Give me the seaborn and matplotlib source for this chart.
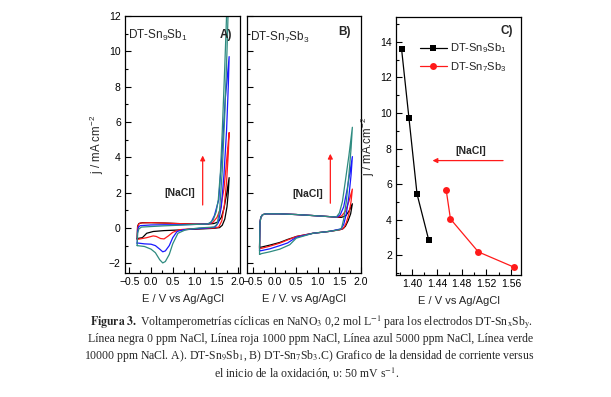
import numpy as np
import pandas as pd
import matplotlib
matplotlib.use("Agg")
import matplotlib.pyplot as plt
from matplotlib.ticker import MultipleLocator
import seaborn as sns

# ---------------- data ----------------
# Panel A: DT-Sn9Sb1 cyclic voltammograms (E / V, j / mA cm-2), loops
A_black_E = [-0.32, -0.31, -0.28, -0.20, 0.00, 0.30, 0.60, 1.00, 1.30, 1.45, 1.55, 1.62, 1.68, 1.74, 1.80,
             1.78, 1.75, 1.70, 1.64, 1.58, 1.45, 1.20, 0.90, 0.60, 0.30, 0.05, -0.10, -0.20, -0.32]
A_black_j = [-0.60, 0.10, 0.25, 0.30, 0.30, 0.28, 0.25, 0.22, 0.22, 0.25, 0.35, 0.60, 1.10, 1.90, 2.85,
             2.00, 1.20, 0.50, 0.15, 0.02, -0.02, -0.05, -0.08, -0.12, -0.15, -0.20, -0.30, -0.55, -0.60]
A_red_E = [-0.32, -0.31, -0.29, -0.25, 0.00, 0.30, 0.60, 1.00, 1.30, 1.42, 1.52, 1.60, 1.68, 1.73, 1.80,
           1.78, 1.74, 1.69, 1.63, 1.56, 1.45, 1.20, 0.90, 0.65, 0.50, 0.40, 0.30, 0.22, 0.12, 0.05, -0.10, -0.25, -0.32]
A_red_j = [-0.65, 0.00, 0.20, 0.28, 0.30, 0.28, 0.25, 0.22, 0.22, 0.30, 0.60, 1.10, 2.20, 3.50, 5.40,
           4.20, 2.60, 1.30, 0.40, 0.05, 0.00, -0.03, -0.05, -0.10, -0.25, -0.45, -0.62, -0.60, -0.48, -0.45, -0.55, -0.62, -0.65]
A_blue_E = [-0.32, -0.31, -0.29, -0.25, 0.00, 0.30, 0.60, 1.00, 1.30, 1.38, 1.46, 1.56, 1.64, 1.71, 1.80,
            1.78, 1.74, 1.68, 1.62, 1.55, 1.48, 1.30, 1.00, 0.75, 0.60, 0.50, 0.42, 0.33, 0.27, 0.20, 0.10, 0.00, -0.15, -0.32]
A_blue_j = [-0.90, -0.20, 0.05, 0.13, 0.17, 0.18, 0.18, 0.20, 0.22, 0.30, 0.70, 1.60, 4.40, 7.30, 9.70,
            8.00, 5.50, 3.00, 1.20, 0.30, 0.05, 0.00, -0.05, -0.10, -0.20, -0.55, -1.00, -1.30, -1.35, -1.20, -1.00, -0.92, -0.90, -0.85]
A_green_E = [-0.32, -0.31, -0.28, -0.22, 0.00, 0.30, 0.60, 1.00, 1.30, 1.36, 1.43, 1.50, 1.55, 1.60, 1.64, 1.70, 1.74, 1.80,
             1.78, 1.75, 1.70, 1.64, 1.58, 1.52, 1.45, 1.10, 0.80, 0.62, 0.50, 0.42, 0.33, 0.27, 0.20, 0.10, 0.00, -0.15, -0.32]
A_green_j = [-1.00, -0.30, -0.05, 0.05, 0.08, 0.12, 0.15, 0.20, 0.22, 0.30, 0.45, 0.90, 1.60, 3.20, 5.40, 9.20, 12.0, 13.6,
             12.5, 10.0, 6.50, 3.20, 1.00, 0.20, 0.05, 0.00, -0.10, -0.30, -0.90, -1.50, -1.90, -1.98, -1.80, -1.40, -1.20, -1.05, -1.00]

# Panel B: DT-Sn7Sb3 cyclic voltammograms
B_black_E = [-0.35, -0.34, -0.32, -0.28, -0.20, 0.10, 0.50, 0.90, 1.28, 1.45, 1.55, 1.65, 1.72, 1.80,
             1.76, 1.70, 1.64, 1.58, 1.50, 1.28, 0.89, 0.51, 0.30, 0.12, -0.11, -0.30, -0.35]
B_black_j = [-1.10, 0.30, 0.60, 0.75, 0.80, 0.80, 0.76, 0.70, 0.64, 0.60, 0.60, 0.70, 0.95, 1.37,
             0.80, 0.40, 0.10, -0.05, -0.10, -0.19, -0.30, -0.48, -0.65, -0.82, -0.97, -1.08, -1.10]
B_red_E = [-0.35, -0.34, -0.32, -0.28, -0.20, 0.10, 0.50, 0.90, 1.28, 1.45, 1.55, 1.64, 1.72, 1.80,
           1.77, 1.72, 1.66, 1.60, 1.52, 1.28, 0.89, 0.51, 0.30, 0.12, -0.11, -0.30, -0.35]
B_red_j = [-1.17, 0.30, 0.60, 0.75, 0.80, 0.80, 0.76, 0.70, 0.64, 0.60, 0.68, 0.95, 1.50, 2.20,
           1.50, 0.80, 0.30, 0.00, -0.10, -0.19, -0.30, -0.48, -0.68, -0.86, -1.03, -1.15, -1.17]
B_blue_E = [-0.35, -0.34, -0.32, -0.28, -0.20, 0.10, 0.50, 0.90, 1.28, 1.45, 1.52, 1.60, 1.68, 1.74, 1.80,
            1.77, 1.72, 1.66, 1.60, 1.54, 1.28, 0.89, 0.50, 0.30, 0.12, -0.11, -0.30, -0.35]
B_blue_j = [-1.30, 0.30, 0.60, 0.75, 0.80, 0.80, 0.76, 0.70, 0.64, 0.62, 0.75, 1.20, 2.20, 3.10, 4.04,
            3.00, 1.80, 0.80, 0.20, -0.05, -0.19, -0.30, -0.53, -0.85, -1.00, -1.18, -1.28, -1.30]
B_green_E = [-0.35, -0.34, -0.32, -0.28, -0.20, 0.10, 0.50, 0.90, 1.28, 1.43, 1.50, 1.57, 1.64, 1.72, 1.80,
             1.77, 1.72, 1.66, 1.60, 1.55, 1.50, 1.28, 0.89, 0.50, 0.35, 0.12, -0.11, -0.30, -0.35]
B_green_j = [-1.50, 0.30, 0.60, 0.75, 0.80, 0.80, 0.76, 0.70, 0.64, 0.62, 0.85, 1.50, 2.70, 4.10, 5.70,
             4.50, 3.00, 1.50, 0.50, 0.00, -0.10, -0.19, -0.30, -0.58, -0.95, -1.20, -1.35, -1.45, -1.50]

# Panel C: current density vs onset of oxidation
C_sn9_E = [1.383, 1.395, 1.408, 1.427]
C_sn9_j = [13.6, 9.7, 5.45, 2.85]
C_sn7_E = [1.455, 1.462, 1.507, 1.564]
C_sn7_j = [5.7, 4.05, 2.2, 1.35]

series_labels = ["0 ppm", "1000 ppm", "5000 ppm", "10000 ppm"]
C_labels = [r"DT-Sn$_9$Sb$_1$", r"DT-Sn$_7$Sb$_3$"]

# ---------------- style ----------------
sns.set_theme(style="white")
plt.rcParams["font.family"] = ["Liberation Sans", "DejaVu Sans"]
plt.rcParams["mathtext.fontset"] = "custom"
plt.rcParams["mathtext.rm"] = "Liberation Sans"
plt.rcParams["mathtext.it"] = "Liberation Sans"
plt.rcParams["mathtext.bf"] = "Liberation Sans:bold"
plt.rcParams["axes.linewidth"] = 0.9
plt.rcParams["axes.edgecolor"] = "black"

colors = ["#000000", "#ff1a1a", "#1a1aff", "#2e8b80"]
W, H = 611, 397
fig = plt.figure(figsize=(W / 100, H / 100), dpi=100)


def box(l, r, t, b):
    return [l / W, 1 - b / H, (r - l) / W, (b - t) / H]


axA = fig.add_axes(box(125, 240, 16, 273))
axB = fig.add_axes(box(247, 361, 16, 273))
axC = fig.add_axes(box(396, 521, 17, 275))

A_curves = [(A_black_E, A_black_j), (A_red_E, A_red_j), (A_blue_E, A_blue_j), (A_green_E, A_green_j)]
B_curves = [(B_black_E, B_black_j), (B_red_E, B_red_j), (B_blue_E, B_blue_j), (B_green_E, B_green_j)]

for ax, curves in ((axA, A_curves), (axB, B_curves)):
    for (E, j), c, lab in zip(curves, colors, series_labels):
        sns.lineplot(x=E, y=j, sort=False, estimator=None, color=c, lw=0.9, ax=ax, legend=False)

axA.set_xlim(-0.6, 2.05)
axB.set_xlim(-0.64, 2.0)
for ax in (axA, axB):
    ax.set_ylim(-2.55, 12)
    ax.xaxis.set_major_locator(MultipleLocator(0.5))
    ax.xaxis.set_minor_locator(MultipleLocator(0.25))
    ax.yaxis.set_major_locator(MultipleLocator(2))
    ax.yaxis.set_minor_locator(MultipleLocator(1))
    ax.set_xlabel("E / V vs Ag/AgCl", fontsize=8, labelpad=5)
axB.set_xlabel("E / V. vs Ag/AgCl", fontsize=8, labelpad=5)
axA.set_ylabel(r"j / mA cm$^{-2}$", fontsize=8.3, labelpad=2)
axB.set_ylabel("")
axB.tick_params(axis="y", labelleft=False)

# Panel C
dfC = pd.DataFrame({
    "E": C_sn9_E + C_sn7_E,
    "j": C_sn9_j + C_sn7_j,
    "electrode": [C_labels[0]] * len(C_sn9_E) + [C_labels[1]] * len(C_sn7_E),
})
sns.lineplot(data=dfC, x="E", y="j", hue="electrode", style="electrode",
             palette=["#000000", "#ff1a1a"], markers=["s", "o"], dashes=False,
             sort=False, estimator=None, lw=0.9, markersize=5, markeredgewidth=0, ax=axC)
axC.set_xlim(1.374, 1.576)
axC.set_ylim(0.9, 15.4)
axC.xaxis.set_major_locator(MultipleLocator(0.04))
axC.xaxis.set_minor_locator(MultipleLocator(0.02))
axC.yaxis.set_major_locator(MultipleLocator(2))
axC.yaxis.set_minor_locator(MultipleLocator(1))
axC.xaxis.set_major_formatter(matplotlib.ticker.FormatStrFormatter("%.2f"))
axC.set_xlabel("E / V vs Ag/AgCl", fontsize=8, labelpad=5)
axC.set_ylabel(r"j / mA.cm$^{-2}$", fontsize=8.3, labelpad=2)
leg = axC.legend(frameon=False, loc="upper left", bbox_to_anchor=(0.13, 0.935), fontsize=8,
                 handlelength=2.4, handletextpad=0.3, labelspacing=0.45, borderpad=0.2)

for ax in (axA, axB, axC):
    ax.tick_params(which="both", direction="in", top=False, right=False, bottom=True, left=True,
                   labelsize=7.5, width=0.8, pad=3, colors="black")
    ax.tick_params(which="major", length=4)
    ax.tick_params(which="minor", length=2.2)
    for s in ax.spines.values():
        s.set_visible(True)
        s.set_color("black")
        s.set_linewidth(0.9)

# annotations
axA.text(-0.52, 10.9, r"DT-Sn$_9$Sb$_1$", fontsize=8.5, ha="left", va="center")
axA.text(1.72, 10.9, "A)", fontsize=8.5, fontweight="bold", ha="center", va="center")
axA.text(0.67, 1.98, "[NaCl]", fontsize=7.5, fontweight="bold", ha="center", va="center")
axA.annotate("", xy=(1.19, 4.1), xytext=(1.19, 1.3),
             arrowprops=dict(arrowstyle="-|>", color="#ff1a1a", lw=0.9, mutation_scale=7, shrinkA=0, shrinkB=0))

axB.text(-0.57, 10.8, r"DT-Sn$_7$Sb$_3$", fontsize=8.5, ha="left", va="center")
axB.text(1.62, 11.1, "B)", fontsize=8.5, fontweight="bold", ha="center", va="center")
axB.text(0.76, 1.93, "[NaCl]", fontsize=7.5, fontweight="bold", ha="center", va="center")
axB.annotate("", xy=(1.29, 4.2), xytext=(1.29, 1.4),
             arrowprops=dict(arrowstyle="-|>", color="#ff1a1a", lw=0.9, mutation_scale=7, shrinkA=0, shrinkB=0))

axC.text(1.553, 14.6, "C)", fontsize=8.5, fontweight="bold", ha="center", va="center")
axC.text(1.494, 7.85, "[NaCl]", fontsize=7.5, fontweight="bold", ha="center", va="center")
axC.annotate("", xy=(1.433, 7.33), xytext=(1.547, 7.33),
             arrowprops=dict(arrowstyle="-|>", color="#ff1a1a", lw=0.9, mutation_scale=7, shrinkA=0, shrinkB=0))

# caption
cap_kw = dict(ha="center", va="center", fontsize=8.5, family="Liberation Serif", math_fontfamily="stix")
fig.text(0.509, 1 - 322 / H,
         r"$\mathbf{Figura\ 3.}$ Voltamperometrías cíclicas en NaNO$_3$ 0,2 mol L$^{-1}$ para los electrodos DT-Sn$_\mathrm{x}$Sb$_\mathrm{y}$.",
         **cap_kw)
fig.text(0.509, 1 - 339 / H,
         "Línea negra 0 ppm NaCl, Línea roja 1000 ppm NaCl, Línea azul 5000 ppm NaCl, Línea verde", **cap_kw)
fig.text(0.506, 1 - 356 / H,
         r"10000 ppm NaCl. A). DT-Sn$_9$Sb$_1$, B) DT-Sn$_7$Sb$_3$.C) Grafico de la densidad de corriente versus",
         **cap_kw)
fig.text(0.502, 1 - 373 / H, r"el inicio de la oxidación, υ: 50 mV s$^{-1}$.", **cap_kw)

fig.savefig("out.png", dpi=100, facecolor="white")
